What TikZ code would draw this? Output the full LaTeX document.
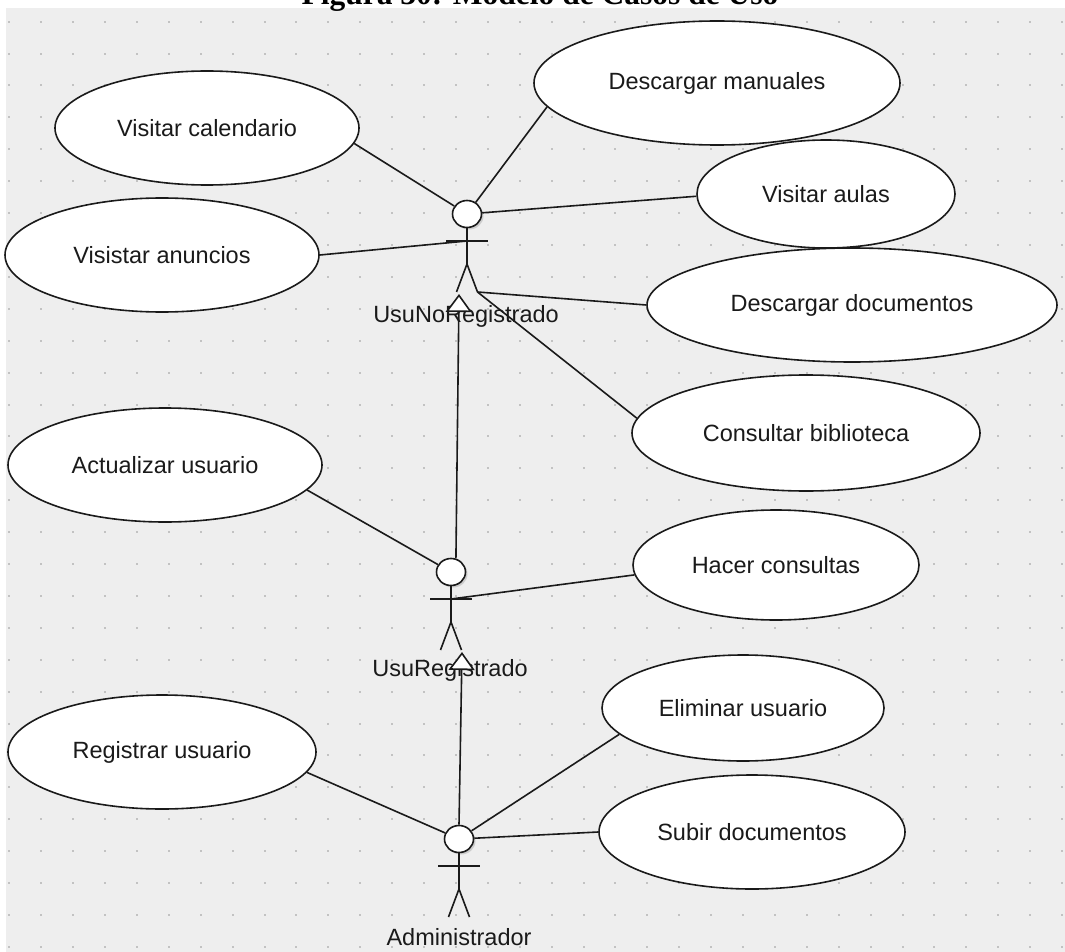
\documentclass[tikz,border=0pt]{standalone}
\usepackage{fontspec}
\setmainfont{Liberation Sans}
\newfontfamily\titlefont{Liberation Serif}
\usetikzlibrary{shapes.geometric,arrows.meta,shadows}

\definecolor{canvas}{HTML}{EEEEEE}
\definecolor{griddot}{HTML}{C2C2C2}
\definecolor{ink}{HTML}{1A1A1A}

% stick figure for a UML actor: name prefix, x and y of the head centre
\newcommand\umlactor[3]{%
  \begin{scope}[shift={(#2,#3)}]
    \node[actorhead] (#1-head) at (0,0) {};
    \coordinate (#1-arm)   at (0,27);
    \coordinate (#1-lhand) at (-21,27);
    \coordinate (#1-rhand) at (21,27);
    \coordinate (#1-hip)   at (0,50);
    \coordinate (#1-lfoot) at (-10.5,78);
    \coordinate (#1-rfoot) at (10.5,78);
    \draw[limb] (#1-head.south) -- (#1-hip);
    \draw[limb] (#1-lhand) -- (#1-rhand);
    \draw[limb] (#1-lfoot) -- (#1-hip) -- (#1-rfoot);
  \end{scope}}

\begin{document}
\begin{tikzpicture}[x=1pt,y=-1pt,
  usecase/.style={ellipse, draw=ink, line width=1.6pt, fill=white, inner sep=0pt,
    font=\fontsize{23.5}{28}\selectfont, text=ink},
  actorhead/.style={ellipse, draw=ink, line width=1.6pt, fill=white,
    minimum width=29pt, minimum height=27pt, inner sep=0pt,
    drop shadow={shadow xshift=2pt, shadow yshift=-2pt, opacity=.3}},
  limb/.style={draw=ink, line width=1.6pt},
  assoc/.style={draw=ink, line width=1.6pt},
  inherit/.style={draw=ink, line width=1.6pt,
    -{Triangle[fill=white, length=18pt, width=26pt]}},
  actorlabel/.style={font=\fontsize{23.5}{28}\selectfont, text=ink, inner sep=0pt}
]
\useasboundingbox (0,0) rectangle (1065,952);
\fill[white] (0,0) rectangle (1065,952);

% dotted drawing canvas
\fill[canvas] (6,8) rectangle (1065,952);
\foreach \i in {0,...,33}
  \foreach \j in {0,...,29}
    \fill[griddot] ({8.3+31.9*\i},{20.7+31.9*\j}) rectangle ++(2,2);

% caption above the canvas
\node[font=\titlefont\bfseries\fontsize{31.5}{36}\selectfont, anchor=base, inner sep=0pt]
  (title) at (540,5) {Figura 30: Modelo de Casos de Uso};

% use cases
\node[usecase, minimum width=304pt, minimum height=114pt] (cal)   at (207,128) {Visitar calendario};
\node[usecase, minimum width=366pt, minimum height=124pt] (man)   at (717,83)  {Descargar manuales};
\node[usecase, minimum width=258pt, minimum height=108pt] (aulas) at (826,194) {Visitar aulas};
\node[usecase, minimum width=314pt, minimum height=114pt] (anun)  at (162,255) {Visistar anuncios};
\node[usecase, minimum width=410pt, minimum height=114pt] (docs)  at (852,305) {Descargar documentos};
\node[usecase, minimum width=348pt, minimum height=116pt] (bib)   at (806,433) {Consultar biblioteca};
\node[usecase, minimum width=314pt, minimum height=114pt] (act)   at (165,465) {Actualizar usuario};
\node[usecase, minimum width=286pt, minimum height=110pt] (hac)   at (776,565) {Hacer consultas};
\node[usecase, minimum width=282pt, minimum height=106pt] (eli)   at (743,708) {Eliminar usuario};
\node[usecase, minimum width=308pt, minimum height=114pt] (reg)   at (162,752) {Registrar usuario};
\node[usecase, minimum width=306pt, minimum height=114pt] (sub)   at (752,832) {Subir documentos};

% actors
\umlactor{nr}{467}{214}
\umlactor{ur}{451}{572}
\umlactor{ad}{459}{839}
\node[actorlabel] (nr-label) at (466,316) {UsuNoRegistrado};
\node[actorlabel] (ur-label) at (450,670) {UsuRegistrado};
\node[actorlabel] (ad-label) at (459,937) {Administrador};
\coordinate (nr-gen) at (459,294);
\coordinate (ur-gen) at (462,652);

% associations
\draw[assoc] (cal.-6)    -- (nr-head);
\draw[assoc] (man.188)   -- (nr-head);
\draw[assoc] (aulas.181) -- (nr-head);
\draw[assoc] (anun.east) -- (nr-arm);
\draw[assoc] (docs.west) -- (nr-rfoot);
\draw[assoc] (bib.175)   -- (nr-rfoot);
\draw[assoc] (act.-10)   -- (ur-head);
\draw[assoc] (hac.184)   -- (ur-arm);
\draw[assoc] (reg.-8)    -- (ad-head);
\draw[assoc] (eli.192)   -- (ad-head);
\draw[assoc] (sub.west)  -- (ad-head);

% generalisations
\draw[inherit] (ur-head.70)  -- (nr-gen);
\draw[inherit] (ad-head.north) -- (ur-gen);
\end{tikzpicture}
\end{document}
